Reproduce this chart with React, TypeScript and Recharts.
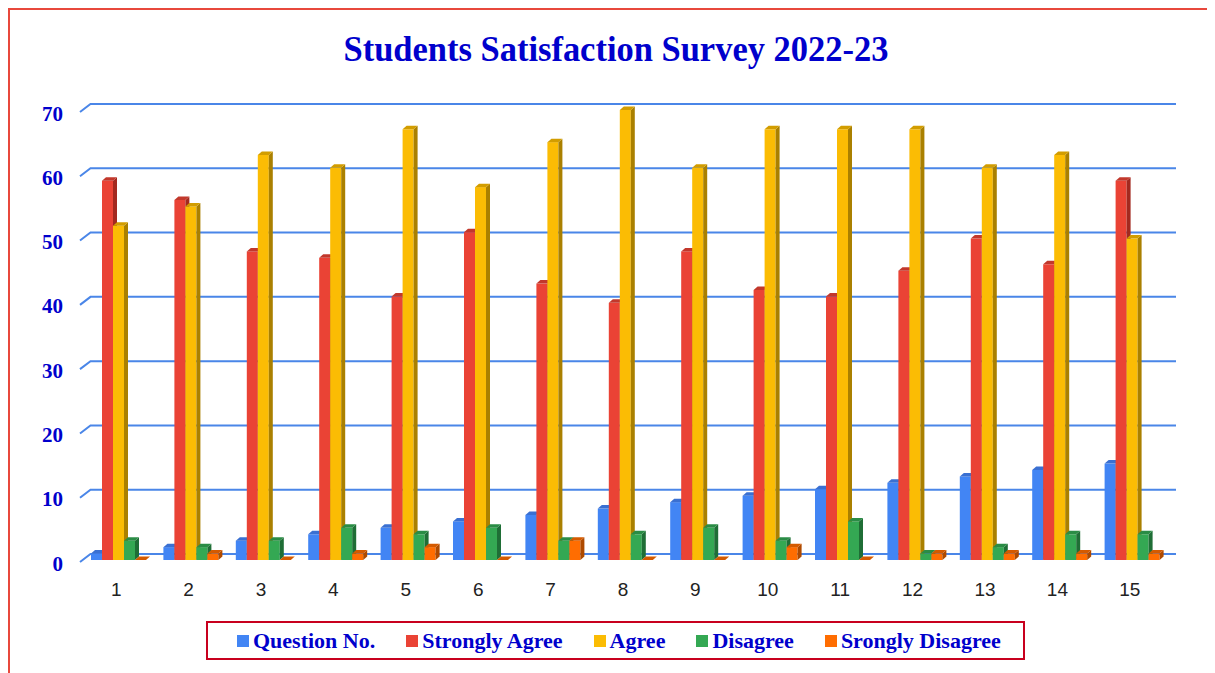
import React from "react";
import { BarChart, Bar, XAxis, YAxis, CartesianGrid } from "recharts";

const categories = ["1", "2", "3", "4", "5", "6", "7", "8", "9", "10", "11", "12", "13", "14", "15"];
const questionNo = [1, 2, 3, 4, 5, 6, 7, 8, 9, 10, 11, 12, 13, 14, 15];
const stronglyAgree = [59, 56, 48, 47, 41, 51, 43, 40, 48, 42, 41, 45, 50, 46, 59];
const agree = [52, 55, 63, 61, 67, 58, 65, 70, 61, 67, 67, 67, 61, 63, 50];
const disagree = [3, 2, 3, 5, 4, 5, 3, 4, 5, 3, 6, 1, 2, 4, 4];
const stronglyDisagree = [0, 1, 0, 1, 2, 0, 3, 0, 0, 2, 0, 1, 1, 1, 1];
const yTicks = [0, 10, 20, 30, 40, 50, 60, 70];

const seriesMeta = [
  { key: "q", name: "Question No.", front: "#4285F4", side: "#2C5DB5", top: "#3A70D2" },
  { key: "sa", name: "Strongly Agree", front: "#EA4335", side: "#A3291F", top: "#C2382C" },
  { key: "a", name: "Agree", front: "#FBBC04", side: "#AA8000", top: "#D29D00" },
  { key: "d", name: "Disagree", front: "#34A853", side: "#1F6E36", top: "#2A8C45" },
  { key: "sd", name: "Srongly Disagree", front: "#FF6D01", side: "#AE4A00", top: "#D45A00" },
];

const data = categories.map((c, i) => ({
  cat: c,
  q: questionNo[i],
  sa: stronglyAgree[i],
  a: agree[i],
  d: disagree[i],
  sd: stronglyDisagree[i],
}));

const BLUE_TEXT = "#0000CC";
const SERIF = "'Liberation Serif', 'Times New Roman', serif";
const SANS = "'Liberation Sans', Arial, sans-serif";

const DX = 4;
const DY = 3.5;
const SHIFT = 3;

function make3DShape(meta: { front: string; side: string; top: string }) {
  return (props: any) => {
    const { x, y, width, height } = props;
    if (x == null || y == null || width == null) return <g />;
    const h = Math.max(0, height || 0);
    const x0 = x + SHIFT;
    const x1 = x0 + width;
    const yb = y + h;
    return (
      <g>
        {h > 0 && <rect x={x0} y={y} width={width} height={h} fill={meta.front} />}
        {h > 0 && (
          <polygon
            points={`${x1},${y} ${x1 + DX},${y - DY} ${x1 + DX},${yb - DY} ${x1},${yb}`}
            fill={meta.side}
          />
        )}
        <polygon
          points={`${x0},${y} ${x0 + DX},${y - DY} ${x1 + DX},${y - DY} ${x1},${y}`}
          fill={meta.top}
        />
      </g>
    );
  };
}

const YTick = (props: any) => {
  const { x, y, payload } = props;
  return (
    <text
      x={x}
      y={y + 10.5}
      textAnchor="end"
      fill={BLUE_TEXT}
      fontFamily={SERIF}
      fontWeight="bold"
      fontSize={21}
    >
      {payload.value}
    </text>
  );
};

const gridLine = (p: any) => {
  const d = `M${p.x1} ${p.y1 + 2} L${p.x1 + 10.5} ${p.y1 - 6} H${p.x2 + 10}`;
  return <path key={`g-${p.index ?? p.y1}`} d={d} stroke="#4A86E8" strokeWidth={2} fill="none" />;
};

export default function App() {
  return (
    <div
      style={{
        position: "relative",
        width: 1207,
        height: 665,
        boxSizing: "border-box",
        borderLeft: "2px solid #E8483C",
        borderTop: "2px solid #E8483C",
        overflow: "hidden",
        background: "#fff",
      }}
    >
      <svg width={1205} height={80} style={{ position: "absolute", left: 0, top: 0 }}>
        <text
          x={606}
          y={51}
          textAnchor="middle"
          fill={BLUE_TEXT}
          fontFamily={SERIF}
          fontWeight="bold"
          fontSize={35}
          textLength={545}
          lengthAdjust="spacingAndGlyphs"
        >
          Students Satisfaction Survey 2022-23
        </text>
      </svg>
      <div style={{ position: "absolute", left: 0, top: 0 }}>
        <BarChart
          width={1205}
          height={663}
          data={data}
          margin={{ top: 100, right: 49, left: 0, bottom: 73 }}
          barCategoryGap={8}
          barGap={0}
        >
          <CartesianGrid vertical={false} horizontal={gridLine} />
          <XAxis
            dataKey="cat"
            axisLine={false}
            tickLine={false}
            tickMargin={17}
            height={40}
            interval={0}
            tick={{ fontSize: 19, fill: "#222222", fontFamily: SANS }}
          />
          <YAxis
            domain={[0, 70]}
            ticks={yTicks}
            width={70}
            axisLine={false}
            tickLine={false}
            tickMargin={11}
            tick={<YTick />}
          />
          {seriesMeta.map((m) => (
            <Bar
              key={m.key}
              dataKey={m.key}
              name={m.name}
              fill={m.front}
              isAnimationActive={false}
              shape={make3DShape(m)}
            />
          ))}
        </BarChart>
      </div>
      <div
        style={{
          position: "absolute",
          left: 196,
          top: 611,
          width: 819,
          height: 39,
          boxSizing: "border-box",
          border: "2px solid #C8001E",
          display: "flex",
          alignItems: "center",
          justifyContent: "flex-start",
          gap: 31,
          paddingLeft: 29,
        }}
      >
        {seriesMeta.map((m) => (
          <div key={m.key} style={{ display: "flex", alignItems: "center" }}>
            <div style={{ width: 12, height: 12, background: m.front, marginRight: 4 }} />
            <span
              style={{
                fontFamily: SERIF,
                fontWeight: "bold",
                fontSize: 22,
                color: BLUE_TEXT,
                whiteSpace: "nowrap",
              }}
            >
              {m.name}
            </span>
          </div>
        ))}
      </div>
    </div>
  );
}
